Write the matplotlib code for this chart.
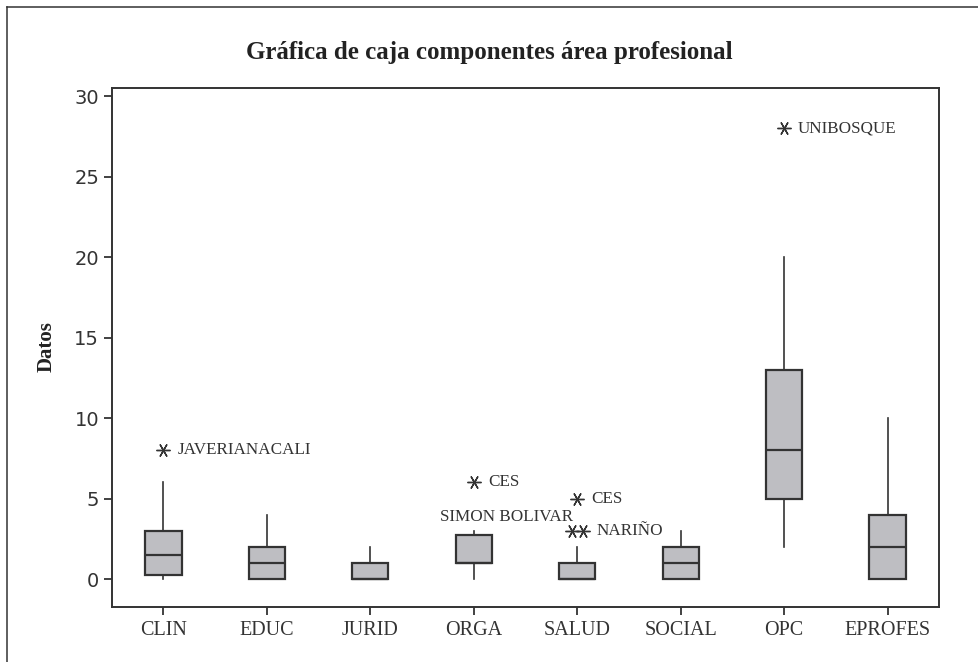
import matplotlib
matplotlib.use("Agg")
import matplotlib.pyplot as plt
from matplotlib.lines import Line2D

# ---- data ----
categories = ["CLIN", "EDUC", "JURID", "ORGA", "SALUD", "SOCIAL", "OPC", "EPROFES"]
q1 = [0.25, 0, 0, 1, 0, 0, 5, 0]
median = [1.5, 1, 0, 1, 0, 1, 8, 2]
q3 = [3, 2, 1, 2.75, 1, 2, 13, 4]
whisker_low = [0, 0, 0, 0, 0, 0, 2, 0]
whisker_high = [6, 4, 2, 3, 2, 3, 20, 10]

# outliers: (category, value, label, jitter)
outlier_cat = ["CLIN", "ORGA", "SALUD", "SALUD", "SALUD", "OPC"]
outlier_val = [8, 6, 5, 3, 3, 28]
outlier_lab = ["JAVERIANACALI", "CES", "CES", "", "NARIÑO", "UNIBOSQUE"]
outlier_jit = [0, 0, 0, -0.055, 0.055, 0]

extra_label_cat = "ORGA"
extra_label_val = 3
extra_label_text = "SIMON BOLIVAR"

yticks = [0, 5, 10, 15, 20, 25, 30]

# ---- style ----
dark = "#333333"
boxfill = "#bebec2"
W, H = 979, 662
fig = plt.figure(figsize=(W / 100, H / 100), dpi=100)
ax = fig.add_axes([111.7 / W, 1 - 606.7 / H, (939.3 - 111.7) / W, (606.7 - 88.3) / H])

stats = []
for i, c in enumerate(categories):
    stats.append(dict(label=c, q1=q1[i], med=median[i], q3=q3[i],
                      whislo=whisker_low[i], whishi=whisker_high[i], fliers=[]))
pos = list(range(1, len(categories) + 1))
ax.bxp(stats, positions=pos, widths=0.35, showcaps=False, showfliers=False,
       patch_artist=True,
       boxprops=dict(facecolor=boxfill, edgecolor=dark, linewidth=1.6),
       medianprops=dict(color=dark, linewidth=1.6),
       whiskerprops=dict(color=dark, linewidth=1.2))

serif = ["Liberation Serif", "DejaVu Serif"]
for c, v, lab, j in zip(outlier_cat, outlier_val, outlier_lab, outlier_jit):
    x = categories.index(c) + 1 + j
    ax.plot([x], [v], marker=(6, 2, 30), markersize=10, color=dark,
            markeredgewidth=1.0, linestyle="none")
    if lab:
        ax.annotate(lab, (x, v), xytext=(14, 0), textcoords="offset pixels",
                    ha="left", va="center", fontsize=12.3, family=serif, color=dark)

ax.annotate(extra_label_text, (categories.index(extra_label_cat) + 1, extra_label_val),
            xytext=(-34, 14), textcoords="offset pixels", ha="left", va="center",
            fontsize=12.3, family=serif, color=dark)

ax.set_xlim(0.5, 8.5)
ax.set_ylim(-1.72, 30.48)
ax.set_xticks(pos)
ax.set_xticklabels(categories, family=serif, fontsize=14.5, color=dark)
ax.set_yticks(yticks)
ax.set_yticklabels([str(t) for t in yticks], family="DejaVu Sans", fontsize=14, color=dark)
ax.tick_params(axis="both", direction="out", length=6, width=1.3, color=dark)
ax.tick_params(axis="x", pad=4.5)
ax.tick_params(axis="y", pad=3)
for s in ax.spines.values():
    s.set_color(dark)
    s.set_linewidth(1.4)

fig.text(0.5, 1 - 52 / H, "Gráfica de caja componentes área profesional",
         ha="center", va="center", fontsize=18, fontweight="bold",
         family=serif, color="#222222")
fig.text(47 / W, 1 - 347 / H, "Datos", rotation=90, ha="center", va="center",
         fontsize=15, fontweight="bold", family=serif, color="#222222")

fig.add_artist(Line2D([7.3 / W, 1], [1 - 7.3 / H, 1 - 7.3 / H], color=dark, linewidth=1.1,
                      transform=fig.transFigure))
fig.add_artist(Line2D([7.3 / W, 7.3 / W], [0, 1 - 7.3 / H], color=dark, linewidth=1.1,
                      transform=fig.transFigure))

fig.savefig("out.png", dpi=100)
